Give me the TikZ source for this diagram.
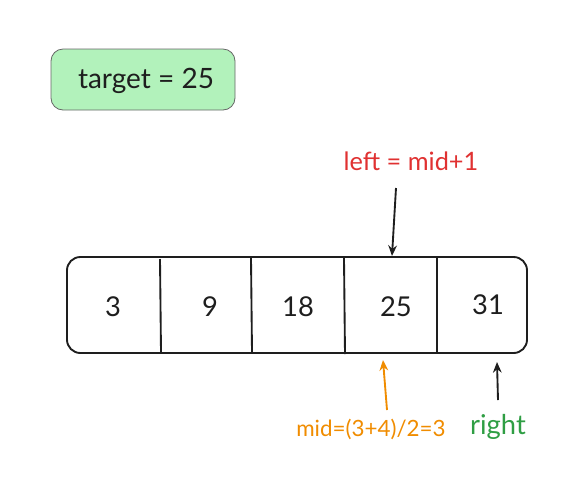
\documentclass[tikz,border=0pt]{standalone}
\usepackage{fontspec}
\setmainfont{Lato}
\usetikzlibrary{arrows.meta}
\definecolor{tgreen}{HTML}{B2F2BB}
\definecolor{tred}{HTML}{E03131}
\definecolor{torange}{HTML}{F08C00}
\definecolor{tdkgreen}{HTML}{2F9E44}
\definecolor{tink}{HTML}{1E1E1E}
\begin{document}
\begin{tikzpicture}[x=0.75pt,y=-0.75pt,
  cell/.style={text=tink,font=\fontsize{20.5}{22}\selectfont},
  ptr/.style={line width=1.4pt,-{Stealth[length=8pt,width=6.5pt]}},
  line/.style={line width=1.4pt,draw=tink}]
\useasboundingbox (0,0) rectangle (587,480);
% target box
\draw[draw=gray!80!black,fill=tgreen,rounded corners=9pt,line width=0.6pt]
  (51,49) rectangle (235,110);
\node[text=tink,font=\fontsize{21}{23}\selectfont] (target) at (146,81) {target = 25};
% array
\draw[line,rounded corners=10pt] (67,257) rectangle (527,353);
\draw[line] (160,259) -- (161,352);
\draw[line] (251,258) -- (252,352);
\draw[line] (344,258) -- (345,354);
\draw[line] (437,258) -- (437,352);
\node[cell] (c1) at (113,307) {3};
\node[cell] (c2) at (210,307) {9};
\node[cell] (c3) at (298,307) {18};
\node[cell] (c4) at (396,307) {25};
\node[cell] (c5) at (488,305) {31};
% labels
\node[text=tred,font=\fontsize{19}{21}\selectfont] (left) at (411,161) {left = mid+1};
\node[text=torange,font=\fontsize{16.8}{18}\selectfont] (mid) at (371,429) {mid=(3+4)/2=3};
\node[text=tdkgreen,font=\fontsize{20.5}{22}\selectfont] (right) at (498,427) {right};
\coordinate (lt) at (396,188);
\coordinate (lh) at (392,256);
\coordinate (mt) at (387,410);
\coordinate (mh) at (383,360);
\coordinate (rt) at (498,400);
\coordinate (rh) at (497,362);
\draw[ptr,draw=tink,fill=tink] (lt) -- (lh);
\draw[ptr,draw=torange,fill=torange] (mt) -- (mh);
\draw[ptr,draw=tink,fill=tink] (rt) -- (rh);
\end{tikzpicture}
\end{document}
